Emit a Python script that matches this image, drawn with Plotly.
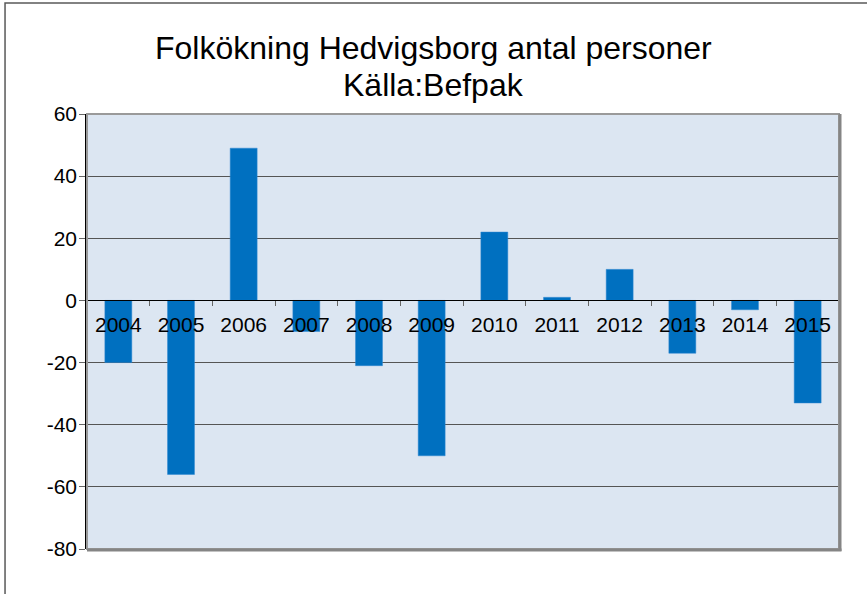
import plotly.graph_objects as go

years = ["2004", "2005", "2006", "2007", "2008", "2009", "2010", "2011", "2012", "2013", "2014", "2015"]
folkokning = [-20, -56, 49, -10, -21, -50, 22, 1, 10, -17, -3, -33]
y_ticks = [-80, -60, -40, -20, 0, 20, 40, 60]
title_lines = ["Folkökning Hedvigsborg antal personer", "Källa:Befpak"]

y_min, y_max = -80, 60
zero_pos = (0 - y_min) / (y_max - y_min)

fig = go.Figure()
fig.add_trace(go.Bar(
    x=years, y=folkokning,
    marker=dict(color="#0070C0", line=dict(color="#2E86D0", width=0.5)),
    width=0.43,
))

px_x = 1 / 752
px_y = 1 / 435

fig.update_layout(
    width=867, height=594,
    margin=dict(l=87, r=28, t=114, b=45, autoexpand=False),
    paper_bgcolor="white",
    plot_bgcolor="#DCE6F2",
    font=dict(family="Liberation Sans, Arial, sans-serif", color="black"),
    showlegend=False,
    bargap=0.57,
    annotations=[
        dict(text=title_lines[0], xref="paper", yref="paper", x=0.461, y=1.152,
             xanchor="center", yanchor="middle", showarrow=False,
             font=dict(size=32, color="black")),
        dict(text=title_lines[1], xref="paper", yref="paper", x=0.461, y=1.067,
             xanchor="center", yanchor="middle", showarrow=False,
             font=dict(size=32, color="black")),
    ],
    shapes=[
        dict(type="rect", xref="paper", yref="paper", x0=-0.109, x1=1.2, y0=-0.2, y1=1.255,
             line=dict(color="#595959", width=1.5), fillcolor="rgba(0,0,0,0)", layer="below"),
        dict(type="rect", xref="paper", yref="paper", x0=0, x1=1, y0=0, y1=1,
             line=dict(color="#9A9A9A", width=2), fillcolor="rgba(0,0,0,0)", layer="above"),
        dict(type="line", xref="paper", yref="paper", x0=1 + px_x, x1=1 + px_x, y0=-2 * px_y, y1=1,
             line=dict(color="#858585", width=3), layer="above"),
        dict(type="line", xref="paper", yref="paper", x0=0, x1=1 + 2.5 * px_x, y0=-px_y, y1=-px_y,
             line=dict(color="#858585", width=3), layer="above"),
    ],
)

fig.update_xaxes(
    type="category",
    categoryorder="array", categoryarray=years,
    anchor="free", position=zero_pos,
    showline=True, linecolor="black", linewidth=1,
    ticks="outside", tickson="boundaries", ticklen=5, tickcolor="#666666",
    ticklabelstandoff=5,
    tickfont=dict(size=21, color="black"),
    showgrid=False, zeroline=False, automargin=False,
    layer="above traces",
)

fig.update_yaxes(
    range=[y_min, y_max],
    tickvals=y_ticks,
    ticktext=[str(v) for v in y_ticks],
    showline=True, linecolor="black", linewidth=1.5,
    ticks="outside", ticklen=6, tickcolor="#666666",
    ticklabelstandoff=-2,
    tickfont=dict(size=21, color="black"),
    showgrid=True, gridcolor="#555555", gridwidth=1,
    zeroline=False, automargin=False,
)

fig.write_html("out.html", config={"displayModeBar": False},
               post_script="document.body.style.margin='0';")
